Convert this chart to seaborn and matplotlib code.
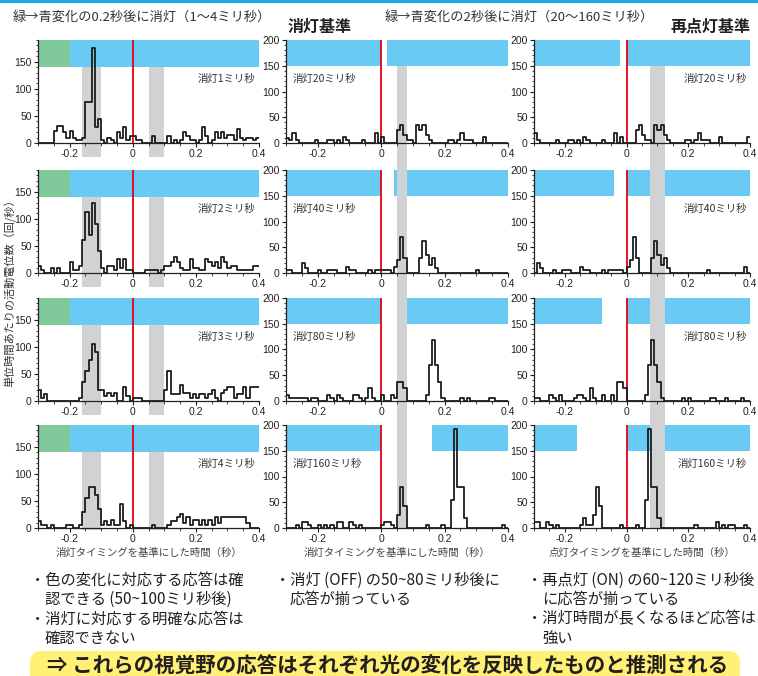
import numpy as np
import seaborn as sns
import matplotlib.pyplot as plt
from matplotlib.patches import Rectangle, FancyBboxPatch

sns.set_theme(style="ticks")
plt.rcParams["font.family"] = ["Noto Sans CJK JP", "DejaVu Sans"]

# 10 ms bins from -0.3 s to 0.4 s; firing rate (spikes/s)
bin_edges = np.round(np.arange(71) * 0.01 - 0.3, 2)

short_off_ms = [1, 2, 3, 4]
long_off_ms = [20, 40, 80, 160]
color_change_s = -0.2

# left column: 0.2 s after green->blue, light off 1-4 ms (aligned to off)
rate_off1 = [0, 0, 0, 0, 0, 22, 31, 31, 20, 10,
             22, 10, 5, 5, 10, 75, 75, 175, 30, 45,
             5, 0, 10, 5, 0, 20, 10, 30, 5, 12,
             12, 5, 5, 0, 0, 0, 12, 0, 0, 0,
             0, 12, 0, 5, 0, 5, 20, 12, 5, 5,
             0, 5, 30, 12, 0, 5, 20, 10, 20, 10,
             15, 15, 5, 25, 10, 5, 10, 10, 5, 10]
rate_off2 = [12, 5, 0, 0, 10, 0, 10, 0, 0, 0,
             20, 5, 5, 12, 60, 113, 70, 130, 90, 40,
             10, 0, 12, 12, 5, 25, 10, 25, 5, 5,
             0, 0, 0, 0, 5, 5, 5, 5, 0, 5,
             12, 12, 20, 30, 20, 10, 5, 5, 25, 10,
             10, 5, 5, 25, 20, 12, 20, 10, 30, 20,
             10, 12, 12, 5, 5, 5, 5, 5, 12, 12]
rate_off3 = [20, 5, 12, 0, 0, 0, 0, 0, 0, 0,
             0, 0, 0, 5, 35, 55, 75, 105, 90, 20,
             20, 10, 15, 10, 15, 0, 0, 25, 10, 0,
             5, 5, 5, 0, 0, 0, 0, 0, 0, 0,
             20, 55, 12, 12, 12, 30, 15, 15, 5, 12,
             5, 12, 12, 5, 12, 20, 5, 0, 15, 20,
             25, 25, 5, 12, 12, 25, 5, 25, 25, 25]
rate_off4 = [12, 5, 5, 0, 5, 0, 0, 0, 0, 5,
             5, 0, 0, 5, 30, 55, 75, 75, 60, 35,
             5, 12, 5, 15, 5, 5, 45, 12, 0, 5,
             0, 0, 0, 0, 0, 0, 5, 0, 0, 0,
             0, 5, 12, 12, 20, 25, 10, 20, 5, 15,
             15, 5, 15, 5, 15, 5, 20, 10, 20, 20,
             20, 20, 20, 20, 20, 20, 10, 0, 0, 0]

# middle column: 2 s after green->blue, light off 20-160 ms (aligned to off)
rate_off20 = [10, 5, 20, 5, 0, 0, 0, 0, 0, 5,
              0, 0, 0, 5, 5, 0, 5, 0, 12, 5,
              0, 0, 0, 0, 5, 0, 0, 0, 20, 0,
              12, 0, 0, 0, 0, 25, 35, 15, 5, 5,
              0, 35, 25, 35, 15, 5, 0, 0, 0, 0,
              0, 5, 5, 0, 5, 20, 5, 5, 5, 0,
              0, 0, 12, 0, 0, 0, 0, 0, 0, 0]
rate_off40 = [5, 5, 0, 0, 0, 20, 10, 0, 0, 0,
              5, 0, 0, 5, 5, 5, 0, 0, 0, 12,
              5, 5, 0, 0, 0, 0, 5, 0, 5, 5,
              5, 5, 5, 0, 12, 25, 70, 30, 0, 0,
              0, 0, 30, 62, 35, 15, 30, 10, 0, 0,
              0, 0, 0, 0, 0, 0, 0, 0, 0, 0,
              5, 0, 0, 0, 0, 0, 0, 0, 0, 0]
rate_off80 = [12, 5, 5, 5, 5, 5, 5, 0, 5, 5,
              0, 0, 0, 12, 5, 0, 12, 5, 0, 0,
              0, 12, 12, 5, 0, 5, 25, 5, 0, 0,
              12, 0, 0, 12, 5, 37, 37, 25, 0, 0,
              0, 0, 0, 0, 12, 70, 118, 70, 37, 5,
              0, 0, 0, 0, 0, 5, 0, 5, 0, 0,
              0, 0, 0, 0, 5, 5, 0, 0, 0, 0]
rate_off160 = [0, 0, 0, 5, 0, 12, 12, 5, 0, 0,
               5, 0, 5, 0, 5, 0, 12, 12, 0, 0,
               12, 5, 0, 5, 0, 0, 0, 0, 0, 0,
               5, 12, 12, 5, 0, 25, 80, 43, 0, 0,
               0, 0, 0, 0, 5, 0, 0, 0, 0, 5,
               0, 0, 55, 193, 80, 80, 20, 0, 0, 0,
               0, 0, 0, 0, 0, 0, 0, 0, 5, 0]

# right column: same recordings aligned to light back on
rate_on20 = [20, 5, 0, 0, 0, 0, 0, 5, 0, 0,
             0, 5, 5, 0, 5, 0, 12, 5, 0, 0,
             0, 0, 5, 0, 0, 0, 20, 0, 12, 0,
             0, 0, 0, 25, 35, 15, 5, 5, 0, 35,
             25, 35, 15, 5, 0, 0, 0, 0, 0, 5,
             5, 0, 5, 20, 5, 5, 5, 0, 0, 0,
             12, 0, 0, 0, 0, 0, 0, 0, 0, 12]
rate_on40 = [0, 20, 10, 0, 0, 0, 5, 0, 0, 5,
             5, 5, 0, 0, 0, 12, 5, 5, 0, 0,
             0, 0, 5, 0, 5, 5, 5, 5, 5, 0,
             12, 25, 70, 30, 0, 0, 0, 0, 30, 62,
             35, 15, 30, 10, 0, 0, 0, 0, 0, 0,
             0, 0, 0, 0, 0, 0, 5, 0, 0, 0,
             0, 0, 0, 0, 0, 0, 0, 0, 12, 0]
rate_on80 = [5, 5, 0, 0, 0, 12, 5, 0, 12, 0,
             0, 0, 0, 5, 12, 12, 5, 0, 25, 5,
             0, 0, 12, 0, 0, 12, 0, 37, 37, 25,
             0, 0, 0, 0, 0, 0, 12, 70, 118, 70,
             37, 5, 0, 0, 0, 0, 0, 0, 5, 0,
             5, 0, 0, 0, 0, 0, 0, 5, 5, 0,
             0, 0, 5, 0, 0, 0, 0, 5, 0, 0]
rate_on160 = [12, 12, 0, 0, 12, 5, 0, 5, 0, 0,
              0, 0, 0, 0, 0, 5, 20, 5, 5, 25,
              80, 43, 0, 0, 0, 0, 0, 0, 5, 0,
              0, 0, 0, 5, 0, 0, 55, 193, 80, 80,
              20, 0, 0, 0, 0, 0, 0, 0, 0, 0,
              0, 0, 5, 0, 0, 0, 0, 0, 0, 12,
              0, 5, 0, 5, 5, 0, 0, 0, 5, 0]

# grey response windows (s)
win_short = [(-0.16, -0.10), (0.05, 0.10)]
win_off = [(0.05, 0.08)]
win_on = [(0.075, 0.125)]

BLUE = "#69cbf3"
GREEN = "#7fc99a"
GRAY = "#d1d2d4"
RED = "#e60012"
LINE = "#1c1c1c"
TXT = "#333333"

W, H = 758, 676
fig = plt.figure(figsize=(W / 100, H / 100), dpi=100)

col_x = [38, 286, 534]
col_w = [221, 222, 216]
row_y = [40, 170, 298, 425]
ax_h = 103


def make_ax(c, r):
    return fig.add_axes([col_x[c] / W, 1 - (row_y[r] + ax_h) / H, col_w[c] / W, ax_h / H])


def panel(ax, rates, ymax, light, windows, win_top, win_below, label, side):
    ax.set_facecolor("none")
    for x0, x1, color in light:
        ax.add_patch(Rectangle((x0, ymax - 50), x1 - x0, 50, facecolor=color,
                               edgecolor="none", zorder=0.3))
    for x0, x1 in windows:
        ax.add_patch(Rectangle((x0, -win_below), x1 - x0, win_top + win_below,
                               transform=ax.get_xaxis_transform(), facecolor=GRAY,
                               edgecolor="none", zorder=0.5, clip_on=False))
    # step outline of the histogram (last value repeated to close the final bin)
    sns.lineplot(x=bin_edges, y=np.append(rates, rates[-1]), drawstyle="steps-post",
                 estimator=None, color=LINE, linewidth=1.3, zorder=3, ax=ax)
    ax.axvline(0, color=RED, lw=1.3, zorder=2.6)

    ax.set_xlim(-0.3, 0.4)
    ax.set_ylim(0, ymax)
    ax.set_xticks([-0.2, 0, 0.2, 0.4])
    ax.set_xticklabels(["-0.2", "0", "0.2", "0.4"])
    ax.set_xticks(np.arange(-0.3, 0.41, 0.05), minor=True)
    ax.set_yticks(range(0, ymax + 1, 50))
    ax.set_yticks(range(0, ymax + 1, 10), minor=True)
    ax.set_xlabel("")
    ax.set_ylabel("")
    ax.tick_params(which="major", length=3, width=0.8, labelsize=7.5, pad=1.5,
                   colors="#222222")
    ax.tick_params(which="minor", length=1.8, width=0.6, colors="#222222")
    for lab in ax.get_xticklabels() + ax.get_yticklabels():
        lab.set_fontfamily("Liberation Sans")
    sns.despine(ax=ax)
    for s in ["left", "bottom"]:
        ax.spines[s].set_linewidth(0.9)
        ax.spines[s].set_color("#222222")

    if side == "left":
        ax.text(0.03, 0.625, label, transform=ax.transAxes, ha="left", va="center",
                fontsize=7.5, color=TXT)
    else:
        ax.text(0.985, 0.625, label, transform=ax.transAxes, ha="right", va="center",
                fontsize=7.5, color=TXT)


short_rates = [rate_off1, rate_off2, rate_off3, rate_off4]
off_rates = [rate_off20, rate_off40, rate_off80, rate_off160]
on_rates = [rate_on20, rate_on40, rate_on80, rate_on160]

for r in range(4):
    gap = (row_y[r + 1] - row_y[r] - ax_h) / ax_h if r < 3 else 0.0
    below_short = 14 / ax_h if r < 3 else 2 / ax_h

    ax = make_ax(0, r)
    panel(ax, short_rates[r], 190,
          [(-0.3, color_change_s, GREEN), (color_change_s, 0.4, BLUE)],
          win_short, 140 / 190, below_short, f"消灯{short_off_ms[r]}ミリ秒", "right")

    d = long_off_ms[r] / 1000
    top = 0.75 if r == 0 else 1.0
    ax = make_ax(1, r)
    panel(ax, off_rates[r], 200, [(-0.3, 0, BLUE), (d, 0.4, BLUE)],
          win_off, top, gap, f"消灯{long_off_ms[r]}ミリ秒", "left")

    ax = make_ax(2, r)
    panel(ax, on_rates[r], 200, [(-0.3, -d, BLUE), (0, 0.4, BLUE)],
          win_on, top, gap, f"消灯{long_off_ms[r]}ミリ秒", "right")

# top band and headings
fig.add_artist(Rectangle((0, 1 - 3 / H), 1, 3 / H, transform=fig.transFigure,
                         facecolor="#19a9e1", edgecolor="none"))
fig.text(13 / W, 1 - 17 / H, "緑→青変化の0.2秒後に消灯（1～4ミリ秒）", fontsize=9.5,
         va="center", color=TXT)
fig.text(385 / W, 1 - 17 / H, "緑→青変化の2秒後に消灯（20～160ミリ秒）", fontsize=9.5,
         va="center", color=TXT)
fig.text(288 / W, 1 - 27 / H, "消灯基準", fontsize=11.5, fontweight="bold",
         va="center", color="#222222")
fig.text(751 / W, 1 - 27 / H, "再点灯基準", fontsize=11.5, fontweight="bold",
         va="center", ha="right", color="#222222")

fig.text(10 / W, 1 - 290 / H, "単位時間あたりの活動電位数（回/秒）", rotation=90,
         ha="center", va="center", fontsize=8, color=TXT)
xlabels = ["消灯タイミングを基準にした時間（秒）", "消灯タイミングを基準にした時間（秒）",
           "点灯タイミングを基準にした時間（秒）"]
for c in range(3):
    fig.text((col_x[c] + col_w[c] / 2) / W, 1 - 553 / H, xlabels[c], ha="center",
             va="center", fontsize=7.5, color="#444444")

# notes under each column
notes = [
    (30, 580, "・色の変化に対応する応答は確"),
    (45, 599, "認できる (50~100ミリ秒後)"),
    (30, 619, "・消灯に対応する明確な応答は"),
    (45, 638, "確認できない"),
    (275, 580, "・消灯 (OFF) の50~80ミリ秒後に"),
    (290, 599, "応答が揃っている"),
    (527, 580, "・再点灯 (ON) の60~120ミリ秒後"),
    (542, 599, "に応答が揃っている"),
    (527, 619, "・消灯時間が長くなるほど応答は"),
    (542, 638, "強い"),
]
for x, y, s in notes:
    fig.text(x / W, 1 - y / H, s, fontsize=11, va="center", color="#231f20")

fig.add_artist(FancyBboxPatch((0.30, -0.20), 7.10, 0.45,
                              boxstyle="round,pad=0,rounding_size=0.12",
                              transform=fig.dpi_scale_trans, facecolor="#fff176",
                              edgecolor="none"))
fig.text(388 / W, 1 - 666 / H, "⇒ これらの視覚野の応答はそれぞれ光の変化を反映したものと推測される",
         ha="center", va="center", fontsize=14.8, fontweight="bold", color="#231f20")

fig.savefig("out.png", dpi=100)
